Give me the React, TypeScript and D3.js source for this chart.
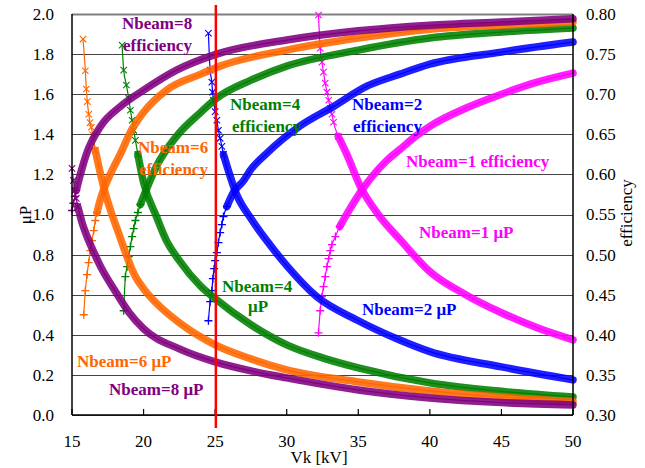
import React, { useEffect } from 'react';
import * as d3 from 'd3';

// ---------- data ----------
const vkTicks = [15, 20, 25, 30, 35, 40, 45, 50];
const muTicks = [0.0, 0.2, 0.4, 0.6, 0.8, 1.0, 1.2, 1.4, 1.6, 1.8, 2.0];
const effTicks = [0.3, 0.35, 0.4, 0.45, 0.5, 0.55, 0.6, 0.65, 0.7, 0.75, 0.8];
const operatingVk = 25.05;

// μP curves: [Vk kV, μP]
const nb8MuP: [number, number][] = [
  [15.0, 1.23], [15.1, 1.17], [15.2, 1.12], [15.3, 1.08], [15.4, 1.04], [15.55, 1.0], [15.7, 0.96],
  [16.0, 0.9], [16.6, 0.8], [17.0, 0.74], [18.0, 0.62], [19.0, 0.51], [20.0, 0.43], [22.5, 0.33],
  [25.0, 0.265], [27.5, 0.22], [30.0, 0.185], [35.0, 0.125], [40.0, 0.085], [45.0, 0.062], [50.0, 0.05],
];
const nb6MuP: [number, number][] = [
  [15.77, 1.875], [15.93, 1.717], [16.0, 1.626], [16.07, 1.563], [16.17, 1.5], [16.26, 1.458],
  [16.35, 1.435], [16.45, 1.397], [16.63, 1.32], [17.0, 1.2], [17.33, 1.106], [18.26, 0.906],
  [19.43, 0.69], [20.0, 0.63], [21.0, 0.55], [22.5, 0.46], [25.0, 0.35], [27.5, 0.28], [30.0, 0.225],
  [35.0, 0.165], [40.0, 0.12], [45.0, 0.09], [50.0, 0.067],
];
const nb4MuP: [number, number][] = [
  [18.5, 1.845], [18.61, 1.72], [18.8, 1.646], [18.96, 1.58], [19.08, 1.52], [19.2, 1.47], [19.31, 1.42],
  [19.43, 1.37], [19.6, 1.3], [20.0, 1.16], [20.9, 0.99], [21.6, 0.87], [22.5, 0.77], [23.95, 0.645],
  [25.0, 0.58], [27.5, 0.45], [30.0, 0.35], [32.5, 0.285], [35.0, 0.235], [40.0, 0.16], [45.0, 0.118],
  [50.0, 0.09],
];
const nb2MuP: [number, number][] = [
  [24.53, 1.904], [24.65, 1.72], [24.77, 1.66], [24.82, 1.61], [24.88, 1.57], [25.0, 1.513],
  [25.12, 1.47], [25.23, 1.42], [25.35, 1.38], [25.47, 1.34], [25.58, 1.3], [26.5, 1.1], [27.5, 0.98],
  [28.6, 0.87], [30.0, 0.745], [32.1, 0.59], [34.9, 0.474], [37.9, 0.374], [40.0, 0.316], [45.0, 0.24],
  [50.0, 0.175],
];
const nb1MuP: [number, number][] = [
  [32.22, 1.995], [32.34, 1.83], [32.46, 1.76], [32.57, 1.71], [32.69, 1.655], [32.81, 1.61],
  [32.93, 1.57], [33.04, 1.53], [33.16, 1.5], [33.27, 1.46], [33.6, 1.39], [34.2, 1.3], [35.14, 1.14],
  [36.5, 0.99], [37.94, 0.873], [40.0, 0.715], [42.5, 0.6], [45.0, 0.51], [47.5, 0.435], [50.0, 0.375],
];

// efficiency curves: [Vk kV, efficiency]
const nb8Eff: [number, number][] = [
  [15.0, 0.555], [15.1, 0.564], [15.2, 0.5725], [15.3, 0.58], [15.4, 0.5875], [15.7, 0.6075],
  [16.0, 0.625], [17.0, 0.66], [18.4, 0.685], [20.0, 0.705], [22.3, 0.73], [25.1, 0.75], [30.0, 0.7675],
  [35.0, 0.779], [40.0, 0.786], [45.0, 0.79], [50.0, 0.794],
];
const nb6Eff: [number, number][] = [
  [15.82, 0.425], [15.93, 0.455], [16.05, 0.475], [16.16, 0.49], [16.28, 0.505], [16.4, 0.5175],
  [16.52, 0.53], [16.63, 0.5425], [16.75, 0.5525], [17.0, 0.57], [17.8, 0.605], [18.5, 0.63],
  [19.0, 0.65], [20.0, 0.6775], [21.6, 0.705], [24.0, 0.725], [25.35, 0.735], [30.0, 0.755],
  [35.0, 0.77], [40.0, 0.781], [45.0, 0.786], [50.0, 0.79],
];
const nb4Eff: [number, number][] = [
  [18.61, 0.43], [18.73, 0.4725], [18.85, 0.485], [18.96, 0.4975], [19.08, 0.51], [19.2, 0.5225],
  [19.31, 0.5325], [19.43, 0.5425], [19.6, 0.5525], [19.78, 0.5625], [20.0, 0.5725], [20.9, 0.61],
  [22.3, 0.6475], [24.0, 0.6775], [25.1, 0.695], [27.5, 0.7175], [30.0, 0.735], [35.0, 0.755],
  [40.0, 0.77], [45.0, 0.7775], [50.0, 0.7825],
];
const nb2Eff: [number, number][] = [
  [24.53, 0.4175], [24.65, 0.44125], [24.77, 0.455], [24.84, 0.47], [24.93, 0.4825], [25.0, 0.4925],
  [25.12, 0.5025], [25.23, 0.515], [25.35, 0.5275], [25.47, 0.5375], [25.58, 0.5475], [25.82, 0.56],
  [26.28, 0.5775], [27.0, 0.5925], [27.45, 0.605], [28.6, 0.62625], [30.9, 0.66], [33.3, 0.685],
  [35.6, 0.71], [37.9, 0.725], [40.0, 0.7375], [45.0, 0.7525], [50.0, 0.765],
];
const nb1Eff: [number, number][] = [
  [32.22, 0.4025], [32.34, 0.43], [32.46, 0.4475], [32.57, 0.46], [32.69, 0.4725], [32.81, 0.485],
  [32.93, 0.495], [33.04, 0.505], [33.16, 0.5125], [33.4, 0.5225], [33.7, 0.535], [34.1, 0.5475],
  [34.6, 0.5625], [35.14, 0.5775], [37.0, 0.6175], [38.0, 0.6325], [39.0, 0.6475], [40.0, 0.66],
  [42.5, 0.6825], [45.0, 0.7], [47.5, 0.715], [50.0, 0.72625],
];

// ---------- layout ----------
const W = 645;
const H = 468;
const L = 72;
const R = 573;
const T = 14;
const B = 415;
const FONT = '"Liberation Serif", "Times New Roman", serif';

const COLORS = {
  n8: '#800080',
  n6: '#FF6600',
  n4: '#008000',
  n2: '#0000FF',
  n1: '#FF00FF',
};

const x = d3.scaleLinear().domain([15, 50]).range([L, R]);
const yMu = d3.scaleLinear().domain([0, 2]).range([B, T]);
const yEff = d3.scaleLinear().domain([0.3, 0.8]).range([B, T]);

// sparse: number of leading points whose markers stand apart before they merge into a band
type Series = { data: [number, number][]; axis: 'mu' | 'eff'; color: string; sparse: number };
const series: Series[] = [
  { data: nb1Eff, axis: 'eff', color: COLORS.n1, sparse: 11 },
  { data: nb1MuP, axis: 'mu', color: COLORS.n1, sparse: 11 },
  { data: nb2Eff, axis: 'eff', color: COLORS.n2, sparse: 12 },
  { data: nb2MuP, axis: 'mu', color: COLORS.n2, sparse: 11 },
  { data: nb4Eff, axis: 'eff', color: COLORS.n4, sparse: 10 },
  { data: nb4MuP, axis: 'mu', color: COLORS.n4, sparse: 9 },
  { data: nb6Eff, axis: 'eff', color: COLORS.n6, sparse: 9 },
  { data: nb6MuP, axis: 'mu', color: COLORS.n6, sparse: 9 },
  { data: nb8Eff, axis: 'eff', color: COLORS.n8, sparse: 4 },
  { data: nb8MuP, axis: 'mu', color: COLORS.n8, sparse: 5 },
];

const line = d3
  .line<[number, number]>()
  .x((d) => d[0])
  .y((d) => d[1])
  .curve(d3.curveMonotoneX);

function Mark({ cx, cy, kind, color }: { cx: number; cy: number; kind: 'x' | '+'; color: string }) {
  const s = kind === 'x' ? 3.2 : 4;
  if (kind === 'x') {
    return (
      <path
        d={`M${cx - s},${cy - s}L${cx + s},${cy + s}M${cx - s},${cy + s}L${cx + s},${cy - s}`}
        stroke={color}
        strokeWidth={1.1}
      />
    );
  }
  return (
    <path d={`M${cx - s},${cy}L${cx + s},${cy}M${cx},${cy - s}L${cx},${cy + s}`} stroke={color} strokeWidth={1.3} />
  );
}

function Curve({ s }: { s: Series }) {
  const yS = s.axis === 'mu' ? yMu : yEff;
  const pts = s.data.map((d) => [x(d[0]), yS(d[1])] as [number, number]);
  const bs = Math.max(0, s.sparse - 1);
  const kind = s.axis === 'mu' ? 'x' : '+';
  return (
    <g>
      <path d={line(pts) || ''} fill="none" stroke={s.color} strokeWidth={1.2} />
      <path
        d={line(pts.slice(bs)) || ''}
        fill="none"
        stroke={s.color}
        strokeWidth={7.5}
        strokeOpacity={0.88}
        strokeLinecap="round"
      />
      {pts.slice(0, bs + 1).map((p, i) => (
        <Mark key={i} cx={p[0]} cy={p[1]} kind={kind} color={s.color} />
      ))}
    </g>
  );
}

export default function App() {
  useEffect(() => {
    document.body.style.margin = '0';
  }, []);
  const lbl = { fontFamily: FONT, fontSize: 17, fontWeight: 'bold' as const };
  return (
    <svg
      width={W}
      height={H}
      viewBox={`0 0 ${W} ${H}`}
      style={{ position: 'absolute', left: 0, top: 0, background: '#fff' }}
    >
      <rect x={0} y={0} width={W} height={H} fill="#fff" />
      {/* gridlines */}
      {muTicks.map((t) => (
        <line key={t} x1={L} x2={R} y1={Math.round(yMu(t)) + 0.5} y2={Math.round(yMu(t)) + 0.5} stroke={t === 2 ? '#808080' : '#444'} strokeWidth={t === 2 ? 2 : 1} />
      ))}
      {/* curves */}
      {series.map((s, i) => (
        <Curve key={i} s={s} />
      ))}
      {/* axes */}
      <line x1={L} x2={L} y1={T} y2={B} stroke="#000" strokeWidth={1.5} />
      <line x1={R} x2={R} y1={T} y2={B} stroke="#000" strokeWidth={1.5} />
      <line x1={L} x2={R} y1={B} y2={B} stroke="#000" strokeWidth={1.5} />
      {vkTicks.map((t) => (
        <line key={t} x1={x(t)} x2={x(t)} y1={B} y2={B - 6} stroke="#000" strokeWidth={1.2} />
      ))}
      {/* operating point */}
      <line x1={x(operatingVk)} x2={x(operatingVk)} y1={5} y2={428} stroke="#FF0000" strokeWidth={2.5} />
      {/* tick labels */}
      {muTicks.map((t) => (
        <text key={t} x={54} y={yMu(t)} dy="0.35em" textAnchor="end" fontFamily={FONT} fontSize={17} fill="#000">
          {t.toFixed(1)}
        </text>
      ))}
      {effTicks.map((t) => (
        <text key={t} x={586} y={yEff(t)} dy="0.35em" textAnchor="start" fontFamily={FONT} fontSize={17} fill="#000">
          {t.toFixed(2)}
        </text>
      ))}
      {vkTicks.map((t) => (
        <text key={t} x={x(t)} y={447} textAnchor="middle" fontFamily={FONT} fontSize={17} fill="#000">
          {t}
        </text>
      ))}
      <text x={319} y={463} textAnchor="middle" fontFamily={FONT} fontSize={17}>
        Vk [kV]
      </text>
      <text transform="translate(31,215) rotate(-90)" textAnchor="middle" fontFamily={FONT} fontSize={17}>
        μP
      </text>
      <text transform="translate(632,213) rotate(-90)" textAnchor="middle" fontFamily={FONT} fontSize={17}>
        efficiency
      </text>
      {/* series labels */}
      <g {...lbl}>
        <text x={122} y={29} fill={COLORS.n8}>Nbeam=8</text>
        <text x={123} y={51} fill={COLORS.n8}>efficiency</text>
        <text x={138} y={153} fill={COLORS.n6}>Nbeam=6</text>
        <text x={139} y={175} fill={COLORS.n6}>efficiency</text>
        <text x={230} y={110} fill={COLORS.n4}>Nbeam=4</text>
        <text x={232} y={132} fill={COLORS.n4}>efficiency</text>
        <text x={352} y={110} fill={COLORS.n2}>Nbeam=2</text>
        <text x={353} y={132} fill={COLORS.n2}>efficiency</text>
        <text x={406} y={167} fill={COLORS.n1}>Nbeam=1 efficiency</text>
        <text x={419} y={238} fill={COLORS.n1}>Nbeam=1 μP</text>
        <text x={362} y={315} fill={COLORS.n2}>Nbeam=2 μP</text>
        <text x={222} y={292} fill={COLORS.n4}>Nbeam=4</text>
        <text x={248} y={312} fill={COLORS.n4}>μP</text>
        <text x={77} y={367} fill={COLORS.n6}>Nbeam=6 μP</text>
        <text x={109} y={395} fill={COLORS.n8}>Nbeam=8 μP</text>
      </g>
    </svg>
  );
}
